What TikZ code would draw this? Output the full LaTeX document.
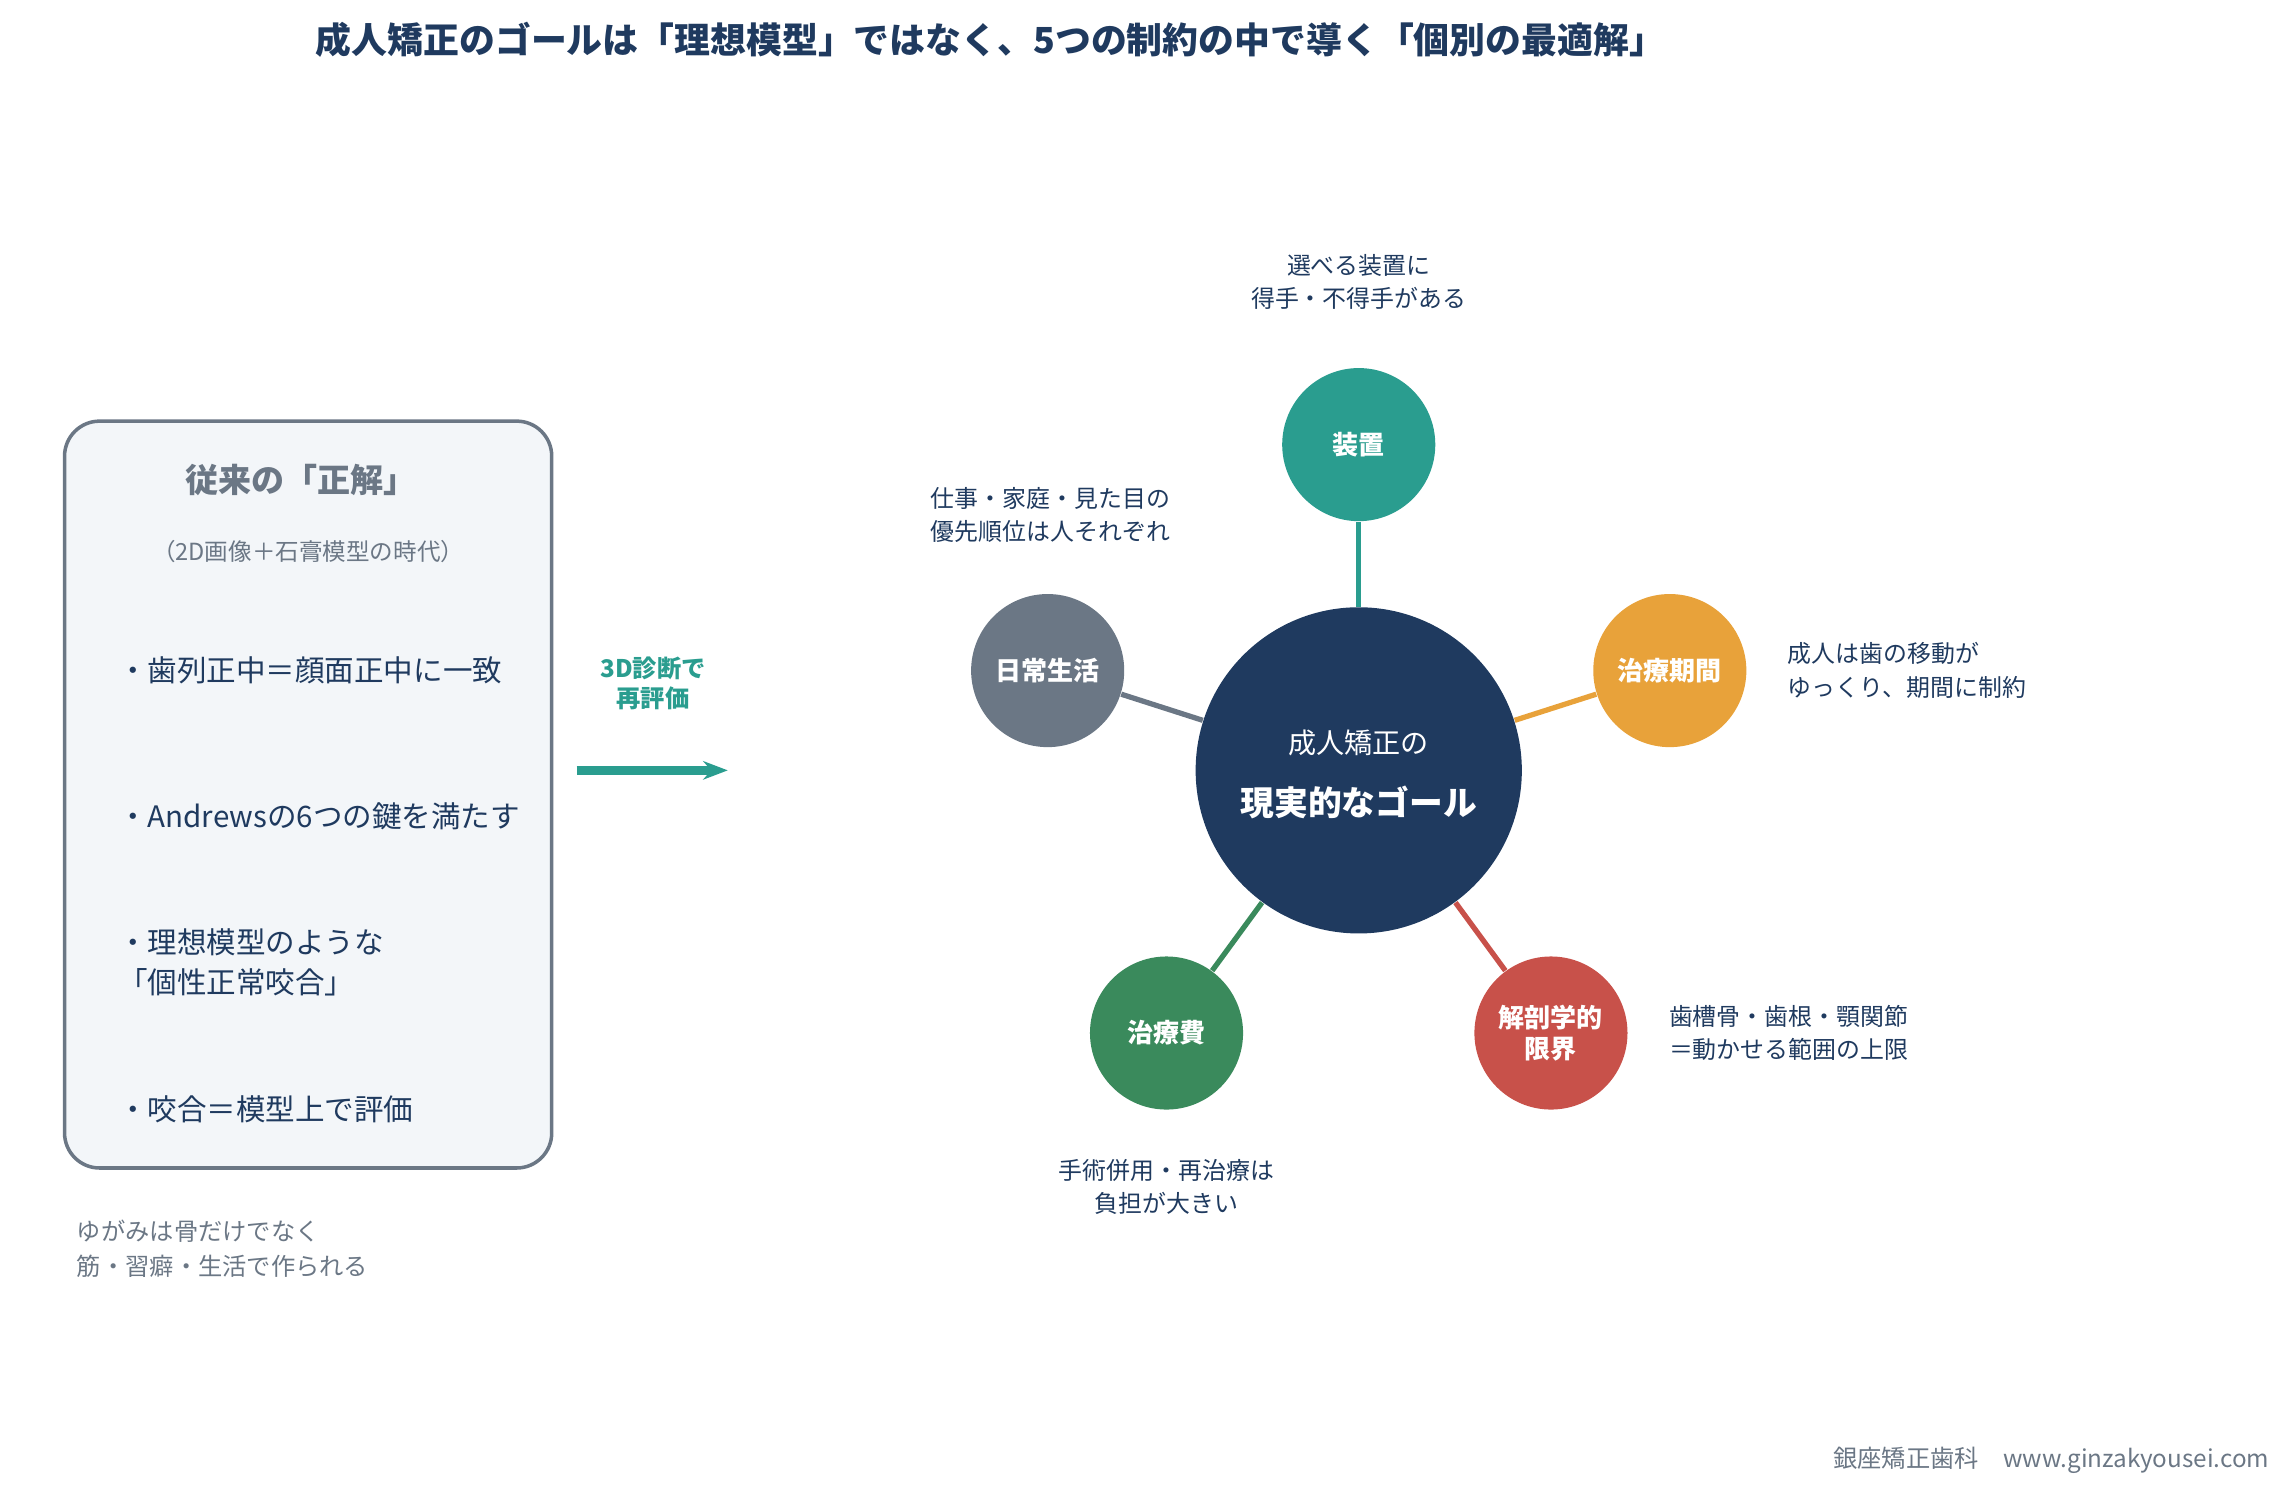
\documentclass[tikz,border=0pt]{standalone}
\usepackage{fontspec}
\setmainfont{Noto Sans CJK JP}
\usepackage{tikz}
\usetikzlibrary{calc,arrows.meta}
\definecolor{navy}{HTML}{1F3A5F}
\definecolor{slate}{HTML}{6B7785}
\definecolor{teal}{HTML}{2A9D8F}
\definecolor{amber}{HTML}{E8A23A}
\definecolor{brick}{HTML}{C8514A}
\definecolor{moss}{HTML}{3A8A5C}
\definecolor{boxfill}{HTML}{F3F6F9}
\tikzset{
	sat/.style={circle,minimum size=1.53cm,inner sep=0pt,text=white,font=\fontsize{7.4}{9}\selectfont\bfseries,align=center},
	note/.style={font=\fontsize{6.8}{9.5}\selectfont,text=navy,align=left},
	item/.style={anchor=west,font=\fontsize{8.4}{11.5}\selectfont,text=navy,align=left},
	spoke/.style={line width=1.5pt}
}
\begin{document}
\begin{tikzpicture}[x=0.01467cm,y=-0.01467cm]
	\useasboundingbox (0,0) rectangle (1560,1015);
	
	\node[font=\fontsize{10.2}{12}\selectfont\bfseries,text=navy] (title) at (675,27) {成人矯正のゴールは「理想模型」ではなく、5つの制約の中で導く「個別の最適解」};
	
	%left box
	\draw[slate,line width=1pt,fill=boxfill,rounded corners=0.35cm] (44,287) rectangle (376,796);
	\node[font=\fontsize{9.4}{11}\selectfont\bfseries,text=slate] (oldhead) at (205,327) {従来の「正解」};
	\node[font=\fontsize{6.7}{8}\selectfont,text=slate] (oldsub) at (210,376) {（2D画像＋石膏模型の時代）};
	\node[item] (i1) at (72,457) {・歯列正中＝顔面正中に一致};
	\node[item] (i2) at (72,556) {・Andrewsの6つの鍵を満たす};
	\node[item] (i3) at (72,656) {・理想模型のような\\「個性正常咬合」};
	\node[item] (i4) at (72,756) {・咬合＝模型上で評価};
	\node[note,text=slate,anchor=west,font=\fontsize{6.9}{10}\selectfont] (foot) at (44,851) {ゆがみは骨だけでなく\\筋・習癖・生活で作られる};
	
	%arrow
	\coordinate (a1) at (393,525);
	\coordinate (a2) at (496,525);
	\draw[teal,line width=2.5pt,-{Stealth[length=7pt]}] (a1) -- (a2);
	\node[font=\fontsize{6.9}{8.5}\selectfont\bfseries,text=teal,align=center] (alab) at (445,466) {3D診断で\\再評価};
	
	%centre and satellites
	\node[circle,fill=navy,minimum size=3.26cm,inner sep=0pt] (goal) at (926,525) {};
	\node[text=white,font=\fontsize{8}{10}\selectfont] (g1) at (926,506) {成人矯正の};
	\node[text=white,font=\fontsize{9.6}{11}\selectfont\bfseries] (g2) at (926,547) {現実的なゴール};
	
	\node[sat,fill=teal] (appl) at (926,303) {装置};
	\node[sat,fill=amber] (term) at (1138,457) {治療期間};
	\node[sat,fill=brick] (anat) at (1057,704) {解剖学的\\限界};
	\node[sat,fill=moss] (cost) at (795,704) {治療費};
	\node[sat,fill=slate] (life) at (714,457) {日常生活};
	
	\draw[spoke,teal] (goal) -- (appl);
	\draw[spoke,amber] (goal) -- (term);
	\draw[spoke,brick] (goal) -- (anat);
	\draw[spoke,moss] (goal) -- (cost);
	\draw[spoke,slate] (goal) -- (life);
	
	\node[note,align=center] (n1) at (926,192) {選べる装置に\\得手・不得手がある};
	\node[note,anchor=west] (n2) at (626,351) {仕事・家庭・見た目の\\優先順位は人それぞれ};
	\node[note,anchor=west] (n3) at (1210,457) {成人は歯の移動が\\ゆっくり、期間に制約};
	\node[note,anchor=west] (n4) at (1129,704) {歯槽骨・歯根・顎関節\\＝動かせる範囲の上限};
	\node[note,align=center] (n5) at (795,809) {手術併用・再治療は\\負担が大きい};
	
	\node[anchor=east,text=slate,font=\fontsize{6.9}{8}\selectfont] (brand) at (1555,995) {銀座矯正歯科\quad www.ginzakyousei.com};
\end{tikzpicture}
\end{document}
